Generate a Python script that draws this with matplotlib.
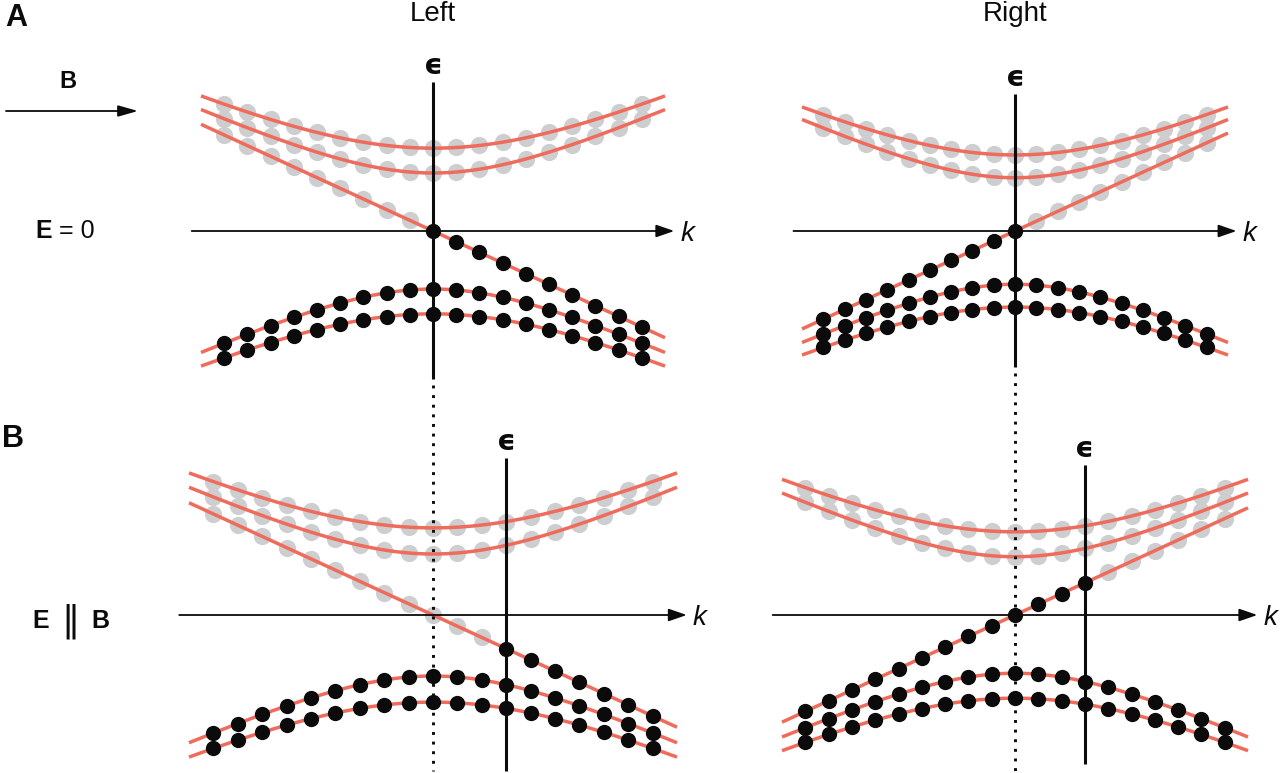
import numpy as np
import matplotlib.pyplot as plt

# ----------------------------------------------------------------------
# Landau levels of a pair of Weyl nodes (schematic), in units of the dot spacing
# ----------------------------------------------------------------------
k_dots = np.array([-9, -8, -7, -6, -5, -4, -3, -2, -1, 0, 1, 2, 3, 4, 5, 6, 7, 8, 9])
level_gaps = [2.5, 3.57]          # n = 1, 2 levels (mirrored below zero)
velocity = 0.46                   # slope of the chiral n = 0 level
k_extent = 10.0                   # half width of the drawn curves
chirality = {"Left": -1, "Right": 1}
fermi_shift = {"A": 0, "B": 3}    # k position of the last filled chiral state
col_titles = ["Left", "Right"]
row_labels = ["A", "B"]

RED = "#EF6B5B"
GRAY = "#CDCED0"
BLACK = "#0B0B0B"
NARROW = ["Liberation Sans Narrow", "Liberation Sans", "DejaVu Sans"]

# panel origin (x, y in pixels) and pixels per dot spacing
layout = {
    ("A", "Left"): (433, 231, 23.2),
    ("A", "Right"): (1015, 231, 21.3),
    ("B", "Left"): (433, 615, 24.4),
    ("B", "Right"): (1015, 615, 23.3),
}

GRAY_MS = 12.4
BLACK_MS = 11.0
CURVE_LW = 2.5


def draw_panel(ax, row, col):
    cx, cy, s = layout[(row, col)]
    chir = chirality[col]
    shift = fermi_shift[row]
    kk = np.linspace(-k_extent, k_extent, 400)

    def px(k, e):
        return cx + s * np.asarray(k), cy - s * np.asarray(e)

    # massive Landau levels: upper empty, lower filled
    for m in level_gaps:
        for sign in (1, -1):
            ax.plot(*px(kk, sign * np.sqrt(m**2 + (velocity * kk) ** 2)),
                    color=RED, lw=CURVE_LW, zorder=2, solid_capstyle="butt")
            ed = sign * np.sqrt(m**2 + (velocity * k_dots) ** 2)
            if sign > 0:
                ax.plot(*px(k_dots, ed), "o", ms=GRAY_MS, color=GRAY, mew=0, zorder=1)
            else:
                ax.plot(*px(k_dots, ed), "o", ms=BLACK_MS, color=BLACK, mew=0, zorder=4)

    # chiral n = 0 level
    ax.plot(*px(kk, chir * velocity * kk), color=RED, lw=CURVE_LW, zorder=2,
            solid_capstyle="butt")
    e0 = chir * velocity * k_dots
    filled = k_dots >= shift if chir < 0 else k_dots <= shift
    ax.plot(*px(k_dots[~filled], e0[~filled]), "o", ms=GRAY_MS, color=GRAY, mew=0, zorder=1)
    ax.plot(*px(k_dots[filled], e0[filled]), "o", ms=BLACK_MS, color=BLACK, mew=0, zorder=4)

    # k axis with arrow
    x0, x1 = cx - 10.4 * s, cx + 10.4 * s
    ax.annotate("", xy=(x1, cy), xytext=(x0, cy),
                arrowprops=dict(arrowstyle="-|>,head_length=11,head_width=3.8",
                                mutation_scale=1, lw=1.3, color=BLACK,
                                shrinkA=0, shrinkB=0), zorder=3)
    ax.text(x1 + 6, cy + 3, "k", ha="left", va="center", fontsize=20,
            style="italic", family=NARROW, color=BLACK)

    # energy axis at the shifted k, dotted line at the node
    xe = cx + shift * s
    top = cy - 6.42 * s
    bottom = cy + 6.4 * s
    ax.plot([xe, xe], [top, bottom], color=BLACK, lw=2.2, zorder=3,
            solid_capstyle="butt")
    ax.text(xe, top - 16, "\u03f5", ha="center", va="center", fontsize=21,
            fontweight="bold", color=BLACK)
    if row == "A":
        ax.plot([cx, cx], [bottom + 6, 771], color=BLACK, lw=2.1,
                linestyle=(0, (1, 2.3)), dash_capstyle="butt", zorder=3)


fig = plt.figure(figsize=(12.8, 7.73), dpi=100)
ax = fig.add_axes([0, 0, 1, 1])
ax.set_xlim(0, 1280)
ax.set_ylim(773, 0)
ax.axis("off")

for row in row_labels:
    for col in col_titles:
        draw_panel(ax, row, col)

# column titles and row labels
ax.text(433, 14, "Left", ha="center", va="center", fontsize=20, family=NARROW, color=BLACK)
ax.text(1015, 14, "Right", ha="center", va="center", fontsize=20, family=NARROW, color=BLACK)
ax.text(5, 18, "A", ha="left", va="center", fontsize=22, fontweight="bold",
        family=NARROW, color=BLACK)
ax.text(2, 439, "B", ha="left", va="center", fontsize=22, fontweight="bold",
        family=NARROW, color=BLACK)

# magnetic field arrow
ax.annotate("", xy=(138, 111), xytext=(6, 111),
            arrowprops=dict(arrowstyle="-|>,head_length=12,head_width=3.4",
                            mutation_scale=1, lw=1.3, color=BLACK,
                            shrinkA=0, shrinkB=0))
ax.text(68, 82, "B", ha="center", va="center", fontsize=17, fontweight="bold",
        family=NARROW, color=BLACK)

# field conditions
ax.text(35, 231, "E", ha="left", va="center", fontsize=18, fontweight="bold",
        family=NARROW, color=BLACK)
ax.text(59, 231, "= 0", ha="left", va="center", fontsize=18, family=NARROW, color=BLACK)
ax.text(32, 621, "E", ha="left", va="center", fontsize=18, fontweight="bold",
        family=NARROW, color=BLACK)
ax.text(70, 621, "\u2016", ha="center", va="center", fontsize=26, color=BLACK)
ax.text(91, 621, "B", ha="left", va="center", fontsize=18, fontweight="bold",
        family=NARROW, color=BLACK)

fig.savefig("out.png", dpi=100)
